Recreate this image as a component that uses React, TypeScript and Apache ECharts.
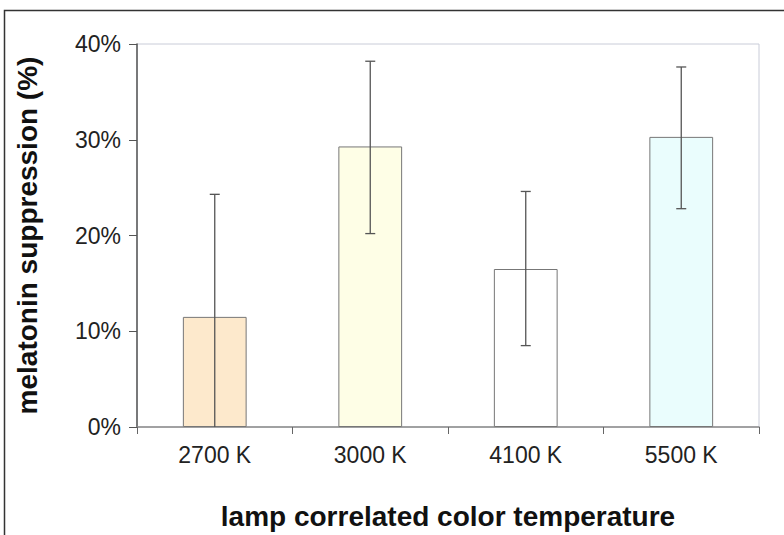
import React, { useEffect, useRef } from "react";
import * as echarts from "echarts";

const categories = ["2700 K", "3000 K", "4100 K", "5500 K"];
const suppression = [11.5, 29.3, 16.5, 30.3];
const errorLow = [-1.3, 20.2, 8.5, 22.8];
const errorHigh = [24.3, 38.2, 24.6, 37.6];
const barColors = ["#fde9cc", "#fefee6", "#ffffff", "#eafdfd"];
const yTicks = [0, 10, 20, 30, 40];

export default function App() {
  const ref = useRef<HTMLDivElement>(null);
  useEffect(() => {
    const chart = echarts.init(ref.current!, undefined, { renderer: "svg" });
    const font = "Liberation Sans, Arial, sans-serif";
    chart.setOption({
      animation: false,
      backgroundColor: "#ffffff",
      graphic: [
        {
          type: "rect",
          shape: { x: 4.5, y: 10.5, width: 820, height: 600 },
          style: { fill: "none", stroke: "#333", lineWidth: 1.5 },
          silent: true,
        },
      ],
      grid: {
        left: 137,
        right: 25,
        top: 44,
        bottom: 105,
        show: true,
        borderColor: "#c9ccd8",
        borderWidth: 1,
        backgroundColor: "transparent",
      },
      xAxis: {
        type: "category",
        data: categories,
        name: "lamp correlated color temperature",
        nameLocation: "middle",
        nameGap: 75,
        nameTextStyle: { fontFamily: font, fontSize: 28, fontWeight: "bold", color: "#111" },
        axisLine: { lineStyle: { color: "#8a8a8a", width: 1.5 } },
        axisTick: { show: true, length: 7, lineStyle: { color: "#666" } },
        axisLabel: { fontFamily: font, fontSize: 23, color: "#222", margin: 16 },
      },
      yAxis: {
        type: "value",
        min: yTicks[0],
        max: yTicks[yTicks.length - 1],
        interval: 10,
        name: "melatonin suppression (%)",
        nameLocation: "middle",
        nameGap: 96,
        nameRotate: 90,
        nameTextStyle: { fontFamily: font, fontSize: 28, fontWeight: "bold", color: "#111" },
        axisLine: { show: true, lineStyle: { color: "#555", width: 1.5 } },
        axisTick: { show: true, length: 8, lineStyle: { color: "#555" } },
        axisLabel: { fontFamily: font, fontSize: 23, color: "#222", margin: 16, formatter: "{value}%" },
        splitLine: { show: false },
      },
      series: [
        {
          type: "bar",
          barWidth: "41%",
          data: suppression.map((v, i) => ({
            value: v,
            itemStyle: { color: barColors[i], borderColor: "#777", borderWidth: 1 },
          })),
          z: 2,
        },
        {
          type: "custom",
          clip: true,
          z: 5,
          data: categories.map((_, i) => [i, errorLow[i], errorHigh[i]]),
          renderItem: (params: any, api: any) => {
            const i = api.value(0);
            const lo = api.coord([i, api.value(1)]);
            const hi = api.coord([i, api.value(2)]);
            const cap = 5;
            const style = { stroke: "#555", lineWidth: 1.3 };
            return {
              type: "group",
              children: [
                { type: "line", shape: { x1: hi[0], y1: hi[1], x2: lo[0], y2: lo[1] }, style },
                { type: "line", shape: { x1: hi[0] - cap, y1: hi[1], x2: hi[0] + cap, y2: hi[1] }, style },
                { type: "line", shape: { x1: lo[0] - cap, y1: lo[1], x2: lo[0] + cap, y2: lo[1] }, style },
              ],
            };
          },
        },
      ],
    });
    return () => chart.dispose();
  }, []);
  return (
    <div
      ref={ref}
      style={{ position: "fixed", left: 0, top: 0, width: 784, height: 535 }}
    />
  );
}
